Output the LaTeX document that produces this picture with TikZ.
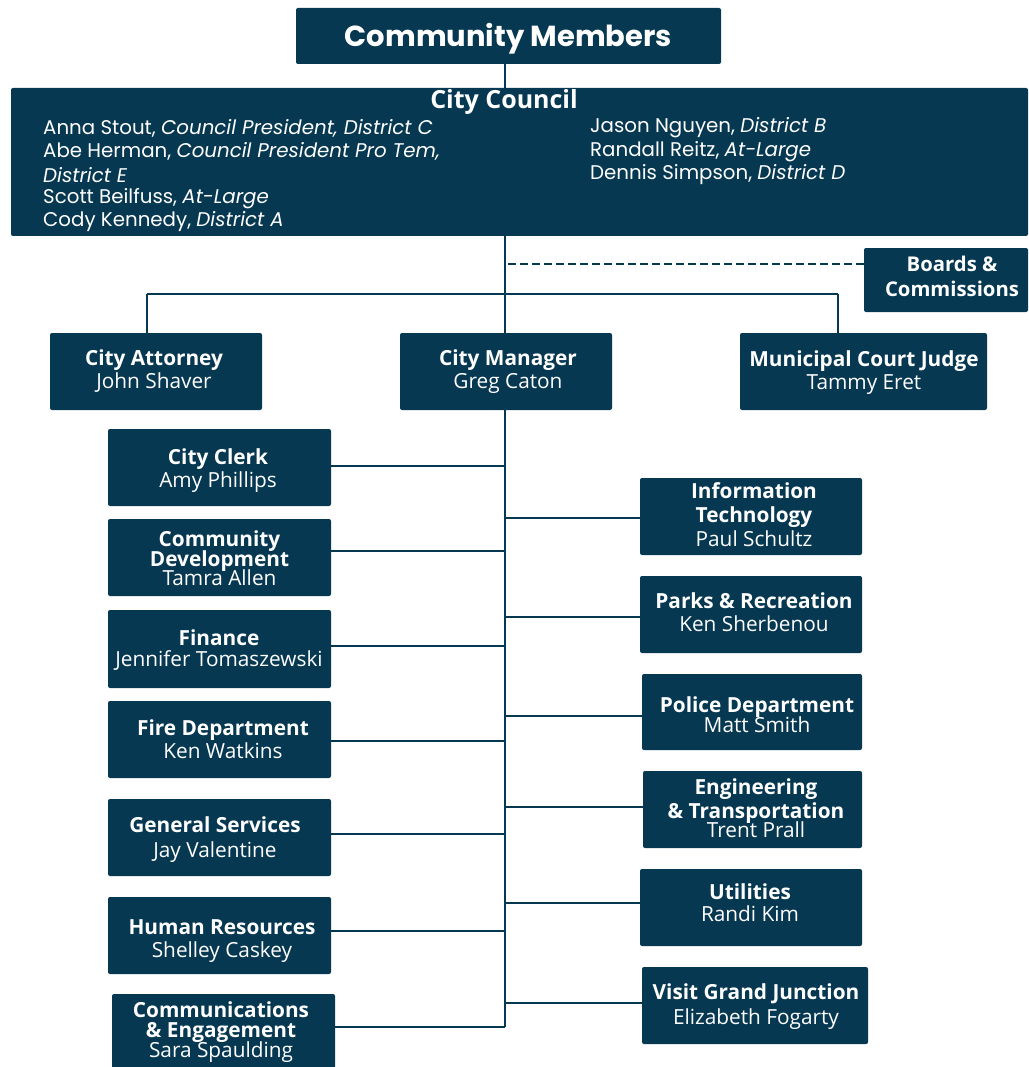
\documentclass[tikz,border=0pt]{standalone}
\usepackage{fontspec}
\setmainfont{Open Sans}
\newfontfamily\mont{Poppins}
\definecolor{navy}{RGB}{6,56,82}
\begin{document}
\begin{tikzpicture}[x=1pt,y=-1pt,
  box/.style={fill=navy, rounded corners=2pt, inner sep=0pt},
  txt/.style={text=white, align=center, inner sep=0pt, font=\fontsize{20.8}{23}\selectfont,
    execute at begin node={\lineskiplimit=-30pt\lineskip=0pt\relax}},
  mem/.style={text=white, anchor=west, inner sep=0pt, font=\mont\fontsize{19.8}{22}\selectfont},
  conn/.style={draw=navy, line width=2pt}]
\useasboundingbox (0,0) rectangle (1028,1067);
% top
\node[box, minimum width=425, minimum height=56] (cm) at (508.5,36) {};
\node[txt, font=\mont\bfseries\fontsize{29}{32}\selectfont] (cmt) at (508.5,39) {Community Members};
\node[box, minimum width=1017, minimum height=148] (cc) at (519.5,162) {};
\node[txt, font=\bfseries\fontsize{25}{28}\selectfont] (cct) at (504,102) {City Council};
\node[mem] (m1) at (43,128) {Anna Stout, \textit{Council President, District C}};
\node[mem] (m2) at (43,151.5) {Abe Herman, \textit{Council President Pro Tem,}};
\node[mem] (m3) at (43,175) {\textit{District E}};
\node[mem] (m4) at (43,198.5) {Scott Beilfuss, \textit{At-Large}};
\node[mem] (m5) at (43,222) {Cody Kennedy, \textit{District A}};
\node[mem] (m6) at (590,128) {Jason Nguyen, \textit{District B}};
\node[mem] (m7) at (590,151.5) {Randall Reitz, \textit{At-Large}};
\node[mem] (m8) at (590,175) {Dennis Simpson, \textit{District D}};
\node[box, minimum width=164, minimum height=64] (bc) at (946,280) {};
\node[txt, font=\bfseries\fontsize{20.3}{25}\selectfont] (bct) at (952,276) {Boards \&\\Commissions};
% second row
\node[box, minimum width=212, minimum height=77] (att) at (156,371.5) {};
\node[txt] (attt) at (154,371) {\textbf{City Attorney}\\John Shaver};
\node[box, minimum width=212, minimum height=77] (mgr) at (506,371.5) {};
\node[txt] (mgrt) at (508,372) {\textbf{City Manager}\\Greg Caton};
\node[box, minimum width=247, minimum height=77] (judge) at (863.5,371.5) {};
\node[txt] (judget) at (864,373) {\textbf{Municipal Court Judge}\\Tammy Eret};
% left column
\node[box, minimum width=223, minimum height=77] (clerk) at (219.5,467.5) {};
\node[txt] (clerkt) at (218,471) {\textbf{City Clerk}\\Amy Phillips};
\node[box, minimum width=223, minimum height=77] (cd) at (219.5,557.5) {};
\node[txt, font=\fontsize{20.8}{19.5}\selectfont] (cdt) at (219.5,558.5) {\textbf{Community}\\\textbf{Development}\\Tamra Allen};
\node[box, minimum width=223, minimum height=78] (fin) at (219.5,649) {};
\node[txt, font=\fontsize{20.8}{21}\selectfont] (fint) at (219,650) {\textbf{Finance}\\Jennifer Tomaszewski};
\node[box, minimum width=223, minimum height=77] (fire) at (219.5,739.5) {};
\node[txt] (firet) at (223,739.5) {\textbf{Fire Department}\\Ken Watkins};
\node[box, minimum width=223, minimum height=77] (gs) at (219.5,837.5) {};
\node[txt, font=\fontsize{20.8}{25}\selectfont] (gst) at (215,840) {\textbf{General Services}\\Jay Valentine};
\node[box, minimum width=223, minimum height=77] (hr) at (219.5,935.5) {};
\node[txt] (hrt) at (222,941.5) {\textbf{Human Resources}\\Shelley Caskey};
\node[box, minimum width=223, minimum height=77] (ce) at (223.5,1032.5) {};
\node[txt, font=\fontsize{20.8}{20}\selectfont] (cet) at (221,1032) {\textbf{Communications}\\\textbf{\& Engagement}\\Sara Spaulding};
% right column
\node[box, minimum width=222, minimum height=77] (it) at (751,516.5) {};
\node[txt, font=\fontsize{20.8}{24}\selectfont] (itt) at (754,515) {\textbf{Information}\\\textbf{Technology}\\Paul Schultz};
\node[box, minimum width=222, minimum height=77] (parks) at (751,614.5) {};
\node[txt] (parkst) at (754,612) {\textbf{Parks \& Recreation}\\Ken Sherbenou};
\node[box, minimum width=220, minimum height=76] (pol) at (752,712) {};
\node[txt, font=\fontsize{20.8}{20}\selectfont] (polt) at (757,714.5) {\textbf{Police Department}\\Matt Smith};
\node[box, minimum width=219, minimum height=77] (eng) at (752.5,809.5) {};
\node[txt, font=\fontsize{20.8}{24}\selectfont] (engt) at (756,808.5) {\textbf{Engineering}\\\textbf{\& Transportation}\\[-5pt]Trent Prall};
\node[box, minimum width=222, minimum height=77] (util) at (751,907.5) {};
\node[txt, font=\fontsize{20.8}{22}\selectfont] (utilt) at (750,903) {\textbf{Utilities}\\Randi Kim};
\node[box, minimum width=226, minimum height=77] (vgj) at (755,1005.5) {};
\node[txt, font=\fontsize{20.8}{25}\selectfont] (vgjt) at (756,1006.5) {\textbf{Visit Grand Junction}\\Elizabeth Fogarty};
% connectors
\coordinate (dash) at (508,264);
\coordinate (bl) at (147,294);
\coordinate (br) at (838,294);
\coordinate (tend) at (505,1027);
\draw[conn] (cm.south -| tend) -- (cc.north -| tend);
\draw[conn] (cc.south -| tend) -- (mgr.north -| tend);
\draw[conn] (mgr.south -| tend) -- (tend);
\draw[conn, dash pattern=on 8pt off 4pt] (dash) -- (dash -| bc.west);
\draw[conn] (bl) -- (br);
\draw[conn] (bl) -- (bl |- att.north);
\draw[conn] (br) -- (br |- judge.north);
\foreach \n/\d in {clerk/1.5,cd/6.5,fin/3,fire/-1.5,gs/3.5,hr/4.5,ce/5.5}{
  \draw[conn] ([yshift=\d pt]\n.east) -- ([yshift=\d pt]\n.east -| tend);}
\foreach \n/\d in {it/-1.5,parks/-2.5,pol/-4,eng/2.5,util/4.5,vgj/2.5}{
  \draw[conn] ([yshift=\d pt]\n.west) -- ([yshift=\d pt]\n.west -| tend);}
\end{tikzpicture}
\end{document}
